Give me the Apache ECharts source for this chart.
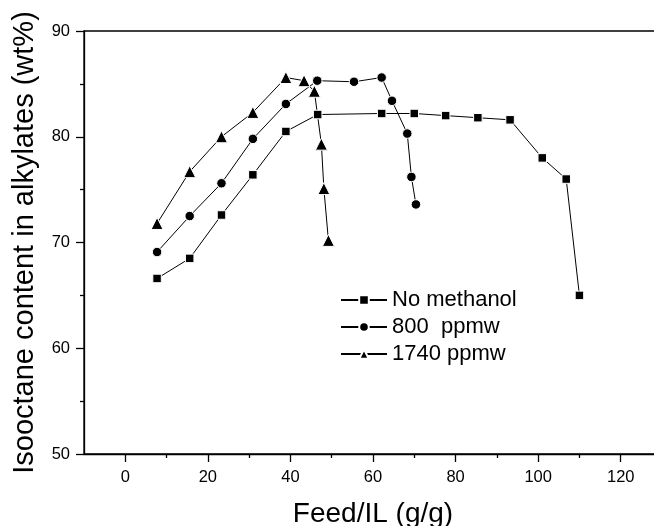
<!DOCTYPE html>
<html>
<head>
<meta charset="utf-8">
<script src="https://cdn.jsdelivr.net/npm/echarts@6/dist/echarts.min.js"></script>
<style>
  html, body { margin: 0; padding: 0; background: #fff; }
  #chart { width: 654px; height: 526px; }
</style>
</head>
<body>
<div id="chart"></div>
<script>
const seriesNames = ['No methanol', '800  ppmw', '1740 ppmw']

const feedNoMeoh = [7.7, 15.6, 23.3, 30.9, 38.9, 46.6, 62.1, 70.0, 77.6, 85.4, 93.2, 101.0, 106.8, 110.0]
const isoNoMeoh = [66.6, 68.5, 72.6, 76.4, 80.5, 82.1, 82.2, 82.2, 82.0, 81.8, 81.6, 78.0, 76.0, 65.0]

const feed800 = [7.7, 15.6, 23.3, 30.9, 38.9, 46.5, 55.4, 62.1, 64.6, 68.3, 69.3, 70.4]
const iso800 = [69.1, 72.5, 75.6, 79.8, 83.1, 85.3, 85.2, 85.6, 83.4, 80.3, 76.2, 73.6]

const feed1740 = [7.7, 15.6, 23.3, 30.9, 38.9, 43.3, 45.8, 47.5, 48.1, 49.2]
const iso1740 = [71.8, 76.7, 80.0, 82.3, 85.6, 85.3, 84.3, 79.3, 75.1, 70.2]

const xTickLabels = [0, 20, 40, 60, 80, 100, 120]
const xMinorTicks = [10, 30, 50, 70, 90, 110]

const font = 'Liberation Sans, Arial, sans-serif'

function pairs(xs, ys) {
  return xs.map((x, i) => [x, ys[i]])
}

function makeSeries(name, xs, ys, symbol, size) {
  return {
    name: name,
    type: 'line',
    symbol: symbol,
    symbolSize: size,
    showAllSymbol: true,
    lineStyle: { color: '#000', width: 1 },
    itemStyle: { color: '#000', borderColor: '#fff', borderWidth: 1 },
    emphasis: { disabled: true },
    data: pairs(xs, ys),
  }
}

const chart = echarts.init(document.getElementById('chart'))
chart.setOption({
  animation: false,
  grid: {
    show: true,
    left: 84,
    top: 31,
    width: 578,
    height: 423,
    outerBoundsMode: 'none',
    containLabel: false,
    borderColor: '#000',
    borderWidth: 1.3,
    backgroundColor: 'transparent',
  },
  legend: {
    orient: 'vertical',
    left: 335,
    top: 284,
    itemWidth: 46,
    itemHeight: 12,
    itemGap: 5,
    textStyle: { fontFamily: font, fontSize: 22, color: '#000' },
    data: seriesNames,
  },
  xAxis: [
    {
      type: 'value',
      min: -10,
      max: 130,
      name: 'Feed/IL (g/g)',
      nameLocation: 'middle',
      nameGap: 46,
      nameTextStyle: { fontFamily: font, fontSize: 28, color: '#000' },
      axisLine: { onZero: false, lineStyle: { color: '#000', width: 1.3 } },
      axisTick: { customValues: xTickLabels, length: 8, lineStyle: { color: '#000', width: 1.3 } },
      axisLabel: { customValues: xTickLabels, margin: 15, fontFamily: font, fontSize: 16.5, color: '#000' },
      splitLine: { show: false },
    },
    {
      type: 'value',
      min: -10,
      max: 130,
      position: 'bottom',
      axisLine: { show: false, onZero: false },
      axisTick: { customValues: xMinorTicks, length: 4, lineStyle: { color: '#000', width: 1.3 } },
      axisLabel: { show: false },
      splitLine: { show: false },
    },
  ],
  yAxis: {
    type: 'value',
    min: 50,
    max: 90,
    interval: 10,
    name: 'Isooctane content in alkylates (wt%)',
    nameLocation: 'middle',
    nameGap: 45,
    nameTextStyle: { fontFamily: font, fontSize: 29, color: '#000' },
    axisLine: { onZero: false, lineStyle: { color: '#000', width: 1.3 } },
    axisTick: { length: 8, lineStyle: { color: '#000', width: 1.3 } },
    minorTick: { show: true, splitNumber: 2, length: 4, lineStyle: { color: '#000', width: 1.3 } },
    axisLabel: { margin: 14, fontFamily: font, fontSize: 16.5, color: '#000' },
    splitLine: { show: false },
  },
  series: [
    makeSeries(seriesNames[0], feedNoMeoh, isoNoMeoh, 'rect', 8.5),
    makeSeries(seriesNames[1], feed800, iso800, 'circle', 9.5),
    makeSeries(seriesNames[2], feed1740, iso1740, 'triangle', 12),
  ],
})
</script>
</body>
</html>
